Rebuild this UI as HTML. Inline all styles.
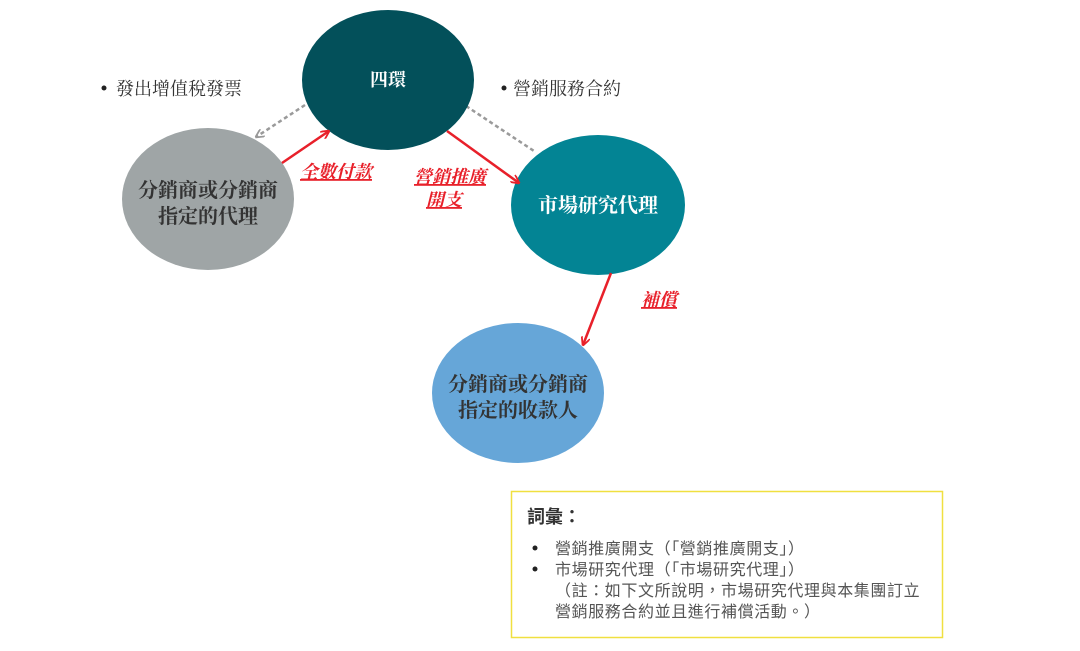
<!DOCTYPE html>
<html><head><meta charset="utf-8"><style>
body{margin:0;background:#fff;}
svg text{font-family:"Liberation Serif","Noto Serif CJK SC","Noto Sans CJK TC",serif;}
svg text.s{font-family:"Noto Sans CJK TC",sans-serif;}
</style></head><body>
<svg width="1080" height="646" viewBox="0 0 1080 646" xmlns="http://www.w3.org/2000/svg">
<defs>
<marker id="ar" viewBox="0 0 10 10" refX="9" refY="5" markerWidth="9" markerHeight="9" orient="auto-start-reverse" markerUnits="userSpaceOnUse">
<path d="M0,0 L10,5 L0,10" fill="none" stroke="#e8202a" stroke-width="2"/></marker>
<marker id="ag" viewBox="0 0 10 10" refX="9" refY="5" markerWidth="9" markerHeight="9" orient="auto" markerUnits="userSpaceOnUse">
<path d="M0,0 L10,5 L0,10" fill="none" stroke="#999" stroke-width="2"/></marker>
</defs>
<line x1="305" y1="105" x2="256" y2="137" stroke="#9a9a9a" stroke-width="2.5" stroke-dasharray="4,3" marker-end="url(#ag)"/>
<line x1="466" y1="106" x2="534" y2="151" stroke="#9a9a9a" stroke-width="2.5" stroke-dasharray="4,3"/>
<ellipse cx="388" cy="80" rx="86" ry="70" fill="#03505a"/>
<ellipse cx="208" cy="199" rx="86" ry="71" fill="#9fa5a6"/>
<ellipse cx="598" cy="205" rx="87" ry="70" fill="#038494"/>
<ellipse cx="518" cy="393" rx="86" ry="70" fill="#66a6d8"/>
<line x1="282" y1="163" x2="329" y2="131" stroke="#e8202a" stroke-width="2.5" marker-end="url(#ar)"/>
<line x1="447" y1="131" x2="519" y2="183" stroke="#e8202a" stroke-width="2.5" marker-end="url(#ar)"/>
<line x1="611" y1="273" x2="583" y2="345" stroke="#e8202a" stroke-width="2.5" marker-end="url(#ar)"/>
<g font-size="18" fill="#333">
<circle cx="104" cy="88" r="2.5" fill="#222"/>
<text x="116" y="95">發出增值稅發票</text>
<circle cx="504" cy="88" r="2.5" fill="#222"/>
<text x="513" y="95">營銷服務合約</text>
</g>
<g font-weight="bold" text-anchor="middle">
<text x="388" y="86" font-size="18" fill="#fff">四環</text>
<text x="208" y="197" font-size="20" fill="#333">分銷商或分銷商</text>
<text x="208" y="223" font-size="20" fill="#333">指定的代理</text>
<text x="598" y="212" font-size="20" fill="#fff">市場研究代理</text>
<text x="518" y="391" font-size="20" fill="#333">分銷商或分銷商</text>
<text x="518" y="417" font-size="20" fill="#333">指定的收款人</text>
</g>
<g font-size="18" fill="#e8202a" font-style="italic" font-weight="bold" text-decoration="underline">
<text x="300" y="178">全數付款</text>
<text x="414" y="183">營銷推廣</text>
<text x="426" y="206">開支</text>
<text x="641" y="306">補償</text>
</g>
<rect x="511.5" y="491.5" width="431" height="146" fill="none" stroke="#f0e040" stroke-width="1.5"/>
<text class="s" x="527" y="523" font-size="18" font-weight="bold" fill="#333">詞彙：</text>
<g font-size="16" fill="#555" letter-spacing="0.6">
<circle cx="535" cy="548" r="2.5" fill="#222"/>
<circle cx="535" cy="569" r="2.5" fill="#222"/>
<text class="s" x="555" y="554">營銷推廣開支（「營銷推廣開支」）</text>
<text class="s" x="555" y="575">市場研究代理（「市場研究代理」）</text>
<text class="s" x="555" y="596">（註：如下文所說明，市場研究代理與本集團訂立</text>
<text class="s" x="555" y="617">營銷服務合約並且進行補償活動。）</text>
</g>
</svg>
</body></html>
